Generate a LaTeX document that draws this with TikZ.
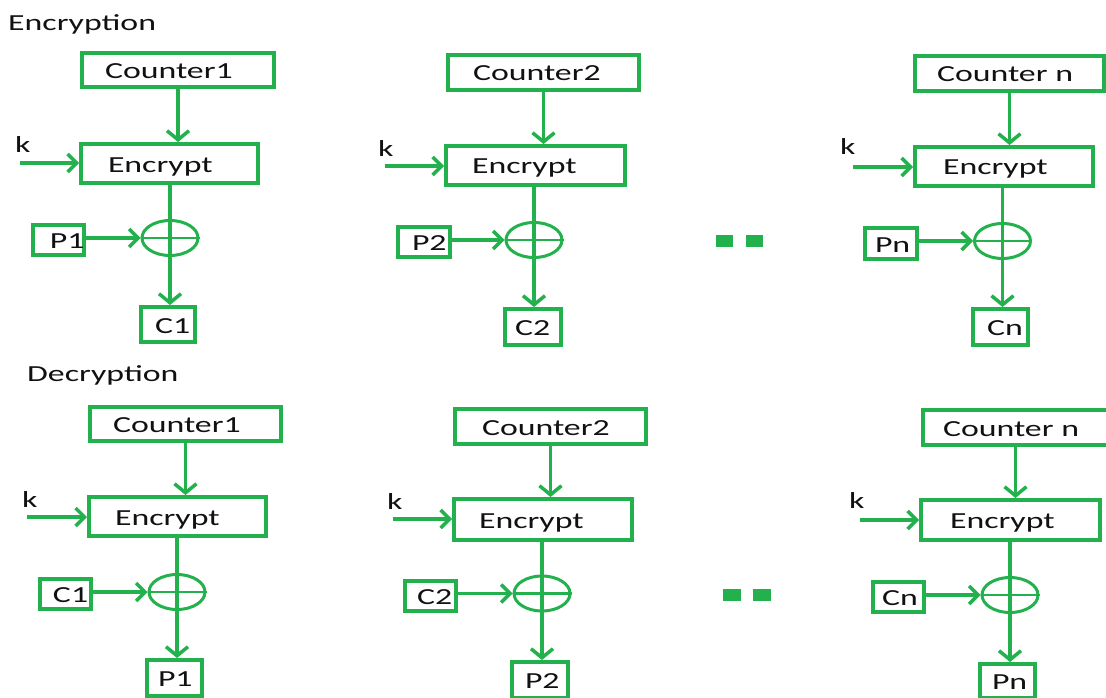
\documentclass[tikz,border=0pt]{standalone}
\usepackage{fontspec}
\setmainfont{Carlito}[FakeStretch=1.47]
\usetikzlibrary{arrows.meta,shapes.geometric}
\definecolor{gr}{HTML}{22B14C}
\definecolor{ink}{HTML}{111111}
% box label: width, left padding, text
\newcommand{\boxtext}[3]{\makebox[#1pt][l]{\hspace*{#2pt}#3}}
\tikzset{
  blk/.style={draw=gr, line width=4pt, inner sep=0pt, text height=17pt, text depth=0pt, text=ink},
  xorop/.style={draw=gr, ellipse, line width=3pt, minimum width=56pt, minimum height=35pt, inner sep=0pt},
  link/.style={draw=gr, line width=3.5pt},
  vtip/.style={link, -{Straight Barb[length=9pt,width=22pt]}},
  htip/.style={link, -{Straight Barb[length=9pt,width=18pt]}},
  plusbar/.style={draw=gr, line width=2.5pt},
  lbl/.style={text=ink, inner sep=0pt, anchor=base west}
}
\begin{document}
\begin{tikzpicture}[x=1pt, y=-1pt, font=\fontsize{23}{27}\selectfont]
\useasboundingbox (0,0) rectangle (1106,698);

% ---------------- Encryption ----------------
\node[lbl] (tenc) at (8,30.5) {Encryption};

% block 1
\node[blk, minimum height=34pt] (ec1) at (178,70) {\boxtext{192}{23}{Counter1}};
\node[blk, minimum height=39pt] (ee1) at (169.5,163.5) {\boxtext{177}{27}{Encrypt}};
\node[blk, minimum height=30pt] (ep1) at (58.5,240) {\boxtext{51}{17}{P1}};
\node[blk, minimum height=35pt] (eo1) at (168,324.5) {\boxtext{54}{14}{C1}};
\node[xorop] (ex1) at (170,238) {};
\node[lbl] (ek1) at (15,153) {k};
\coordinate (eks1) at (20,163);

% block 2
\node[blk, minimum height=35pt] (ec2) at (543.5,72.5) {\boxtext{191}{25}{Counter2}};
\node[blk, minimum height=39pt] (ee2) at (535.5,165.5) {\boxtext{179}{26}{Encrypt}};
\node[blk, minimum height=30pt] (ep2) at (424,242) {\boxtext{52}{14}{P2}};
\node[blk, minimum height=36pt] (eo2) at (533,327) {\boxtext{56}{10}{C2}};
\node[xorop] (ex2) at (534,240) {};
\node[lbl] (ek2) at (378,157) {k};
\coordinate (eks2) at (385,166);

% block n
\node[blk, minimum height=35pt] (ecn) at (1009.5,73.5) {\boxtext{189}{22}{Counter n}};
\node[blk, minimum height=39pt] (een) at (1004,166.5) {\boxtext{178}{28}{Encrypt}};
\node[blk, minimum height=31pt] (epn) at (891,243.5) {\boxtext{52}{10}{Pn}};
\node[blk, minimum height=36pt] (eon) at (1000.5,327) {\boxtext{55}{14}{Cn}};
\node[xorop] (exn) at (1002.5,241) {};
\node[lbl] (ekn) at (840,155) {k};
\coordinate (eksn) at (853,167);

\fill[gr] (716,235) rectangle (733,247);
\fill[gr] (746,235) rectangle (763,247);

% ---------------- Decryption ----------------
\node[lbl] (tdec) at (27,381) {Decryption};

% block 1
\node[blk, minimum height=34pt] (dc1) at (185.5,424) {\boxtext{191}{23}{Counter1}};
\node[blk, minimum height=39pt] (de1) at (177.5,516.5) {\boxtext{177}{26}{Encrypt}};
\node[blk, minimum height=30pt] (di1) at (65.5,594) {\boxtext{51}{13}{C1}};
\node[blk, minimum height=36pt] (do1) at (174.5,678) {\boxtext{55}{11}{P1}};
\node[xorop] (dx1) at (177,592) {};
\node[lbl] (dk1) at (22,507) {k};
\coordinate (dks1) at (27,517);

% block 2
\node[blk, minimum height=35pt] (dc2) at (550.5,426.5) {\boxtext{191}{27}{Counter2}};
\node[blk, minimum height=41pt] (de2) at (543,519.5) {\boxtext{178}{25}{Encrypt}};
\node[blk, minimum height=30pt] (di2) at (430.5,596) {\boxtext{51}{12}{C2}};
\node[blk, minimum height=36pt] (do2) at (540,680) {\boxtext{56}{13}{P2}};
\node[xorop] (dx2) at (542,593.5) {};
\node[lbl] (dk2) at (387,509) {k};
\coordinate (dks2) at (393,519);

% block n
\node[blk, minimum height=35pt] (dcn) at (1015.5,427.5) {\boxtext{185}{20}{Counter n}};
\node[blk, minimum height=40pt] (den) at (1010.5,520) {\boxtext{179}{29}{Encrypt}};
\node[blk, minimum height=30pt] (din) at (898.5,597) {\boxtext{51}{9}{Cn}};
\node[blk, minimum height=34pt] (don) at (1007.5,681) {\boxtext{55}{12}{Pn}};
\node[xorop] (dxn) at (1010,595) {};
\node[lbl] (dkn) at (849,508) {k};
\coordinate (dksn) at (860,520);

\fill[gr] (723,589) rectangle (741,601);
\fill[gr] (753,589) rectangle (771,601);

% ---------------- connectors ----------------
\foreach \c/\e/\i/\o/\x/\k in {ec1/ee1/ep1/eo1/ex1/eks1, ec2/ee2/ep2/eo2/ex2/eks2, ecn/een/epn/eon/exn/eksn,
                                 dc1/de1/di1/do1/dx1/dks1, dc2/de2/di2/do2/dx2/dks2, dcn/den/din/don/dxn/dksn}{
  \draw[vtip] (\c.south) -- (\c.south |- \e.north);
  \draw[htip] (\k) -- (\k -| \e.west);
  \draw[vtip] (\x |- \e.south) -- (\x |- \o.north);
  \draw[htip] (\x -| \i.east) -- (\x.west);
  \draw[plusbar] (\x.west) -- (\x.east);
}
\end{tikzpicture}
\end{document}
